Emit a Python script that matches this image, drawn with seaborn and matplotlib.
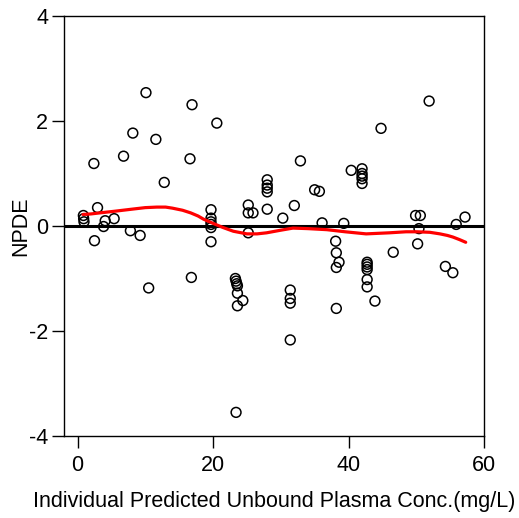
import numpy as np
import pandas as pd
import matplotlib
matplotlib.use("Agg")
import matplotlib.pyplot as plt
import seaborn as sns

# Observed points: individual predicted unbound conc. (mg/L) and NPDE
conc = [10.1, 16.9, 8.16, 11.56, 2.41, 6.79, 16.6, 12.8, 2.95,
        0.86, 0.9, 0.95, 4.08, 5.4, 3.84, 7.8, 9.24, 2.5,
        10.5, 16.8,
        20.56, 32.9, 28.0, 28.0, 28.0, 28.0, 35.0, 35.7,
        25.2, 25.2, 25.9, 28.0, 32.0, 30.3, 36.1, 25.2,
        19.7, 19.7, 19.7, 19.7, 19.7, 19.7,
        38.1, 39.3,
        23.3, 23.4, 23.5, 23.6, 23.6, 24.4, 23.6, 23.4,
        31.4, 31.4, 31.4, 31.4,
        38.2, 38.6, 38.2, 38.2,
        51.9, 44.8, 40.4, 42.0, 42.0, 42.0, 42.0, 42.0,
        49.9, 50.6, 50.4, 50.2, 55.9, 57.2, 46.6,
        42.75, 42.75, 42.75, 42.75, 42.75, 42.75, 43.9,
        54.3, 55.4]
npde = [2.54, 2.31, 1.77, 1.65, 1.19, 1.33, 1.28, 0.83, 0.35,
        0.20, 0.14, 0.08, 0.10, 0.14, -0.01, -0.09, -0.18, -0.28,
        -1.18, -0.98,
        1.96, 1.24, 0.88, 0.78, 0.72, 0.65, 0.69, 0.66,
        0.40, 0.25, 0.25, 0.32, 0.39, 0.15, 0.06, -0.13,
        0.31, 0.15, 0.08, 0.03, -0.03, -0.30,
        -0.29, 0.05,
        -1.00, -1.05, -1.10, -1.14, -1.28, -1.42, -1.52, -3.55,
        -1.22, -1.38, -1.47, -2.17,
        -0.51, -0.69, -0.79, -1.57,
        2.38, 1.86, 1.06, 1.09, 1.00, 0.95, 0.90, 0.81,
        0.20, 0.20, -0.05, -0.34, 0.03, 0.17, -0.50,
        -0.69, -0.73, -0.78, -0.83, -1.02, -1.16, -1.43,
        -0.77, -0.89]

# Smoother (red trend line)
smooth_x = [0.8, 2.0, 3.3, 5.4, 8.0, 10.0, 11.7, 13.0, 14.0, 15.5, 16.7, 17.8, 18.6,
            20.0, 21.5, 23.0, 25.0, 26.5, 27.9, 30.0, 31.8, 34.0, 36.8, 39.5,
            42.6, 46.0, 48.5, 50.1, 52.0, 53.5, 54.6, 55.4, 56.4, 57.3]
smooth_y = [0.22, 0.23, 0.25, 0.28, 0.32, 0.35, 0.36, 0.36, 0.34, 0.30, 0.25, 0.19, 0.13,
            0.05, -0.03, -0.10, -0.15, -0.15, -0.13, -0.08, -0.04, -0.05, -0.07, -0.11,
            -0.15, -0.13, -0.11, -0.11, -0.12, -0.15, -0.18, -0.21, -0.26, -0.31]

x_ticks = [0, 20, 40, 60]
y_ticks = [-4, -2, 0, 2, 4]

sns.set_style("white")
plt.rcParams['font.family'] = ['Liberation Sans', 'DejaVu Sans']
plt.rcParams['axes.unicode_minus'] = False
plt.rcParams['text.color'] = 'black'
plt.rcParams['axes.labelcolor'] = 'black'
plt.rcParams['xtick.color'] = 'black'
plt.rcParams['ytick.color'] = 'black'

fig = plt.figure(figsize=(5.19, 5.18), dpi=100)
ax = fig.add_axes([64/519, 1-436/518, (484-64)/519, (436-16)/518])

df = pd.DataFrame({"conc": conc, "npde": npde})
sm = pd.DataFrame({"x": smooth_x, "y": smooth_y})

sns.scatterplot(data=df, x="conc", y="npde", ax=ax, marker="o", s=50,
                facecolor="none", edgecolor="black", linewidth=1.1, zorder=2)
ax.axhline(0, color="black", lw=2.2, zorder=3)
sns.lineplot(data=sm, x="x", y="y", ax=ax, color="#ff0000", lw=2.3,
             zorder=4, estimator=None, sort=True)

ax.set_xlim(-2, 60)
ax.set_ylim(-4, 4)
ax.set_xticks(x_ticks)
ax.set_yticks(y_ticks)
ax.tick_params(axis="y", pad=3)
ax.tick_params(axis="x", pad=5)
ax.tick_params(direction="out", length=8.5, width=1.0, labelsize=15.5,
               color="black", labelcolor="black", bottom=True, left=True)
for s in ax.spines.values():
    s.set_color("black")
    s.set_linewidth(1.0)
ax.set_xlabel("Individual Predicted Unbound Plasma Conc.(mg/L)", fontsize=15.5,
              labelpad=11, color="black")
ax.set_ylabel("NPDE", fontsize=15.5, labelpad=-2, color="black")

fig.savefig("out.png", dpi=100)
